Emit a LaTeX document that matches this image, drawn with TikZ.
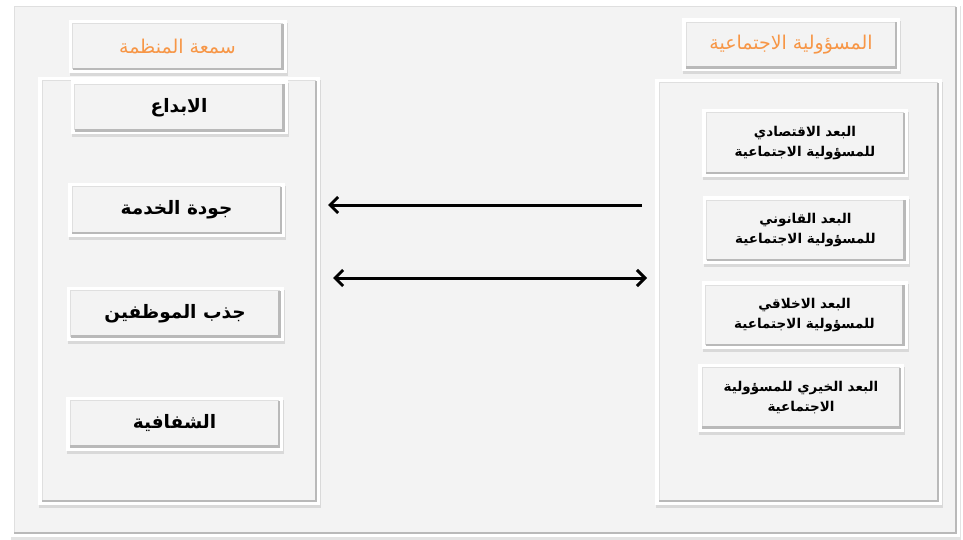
\documentclass[tikz,border=0pt]{standalone}
\usepackage{fontspec}
\usetikzlibrary{arrows.meta,shadows}
\TeXXeTstate=1
\newfontfamily\arabicfont[Script=Arabic]{DejaVu Sans}
\definecolor{bgc}{HTML}{F5F5F5}
\definecolor{facec}{HTML}{F3F3F3}
\definecolor{orangec}{HTML}{F79646}
\tikzset{
  bevel/.style={draw=none, fill=white, inner sep=0pt, outer sep=0pt,
    drop shadow={opacity=0.22, shadow xshift=1pt, shadow yshift=-3pt},
    path picture={
      \coordinate (pa) at ([shift={(4pt,4pt)}]path picture bounding box.south west);
      \coordinate (pb) at ([shift={(-4pt,-4pt)}]path picture bounding box.north east);
      \fill[facec] (pa) rectangle (pb);
      \draw[gray!25, line width=1pt] (pa) -- (pa|-pb) -- (pb);
      \draw[gray!55, line width=2.5pt] (pa) -- (pb|-pa) -- (pb);
    }},
  titlebox/.style={bevel, minimum width=218pt, minimum height=53pt,
    font=\arabicfont\fontsize{19}{21}\selectfont, text=orangec},
  lbox/.style={bevel, minimum width=217pt, minimum height=54pt,
    font=\arabicfont\bfseries\fontsize{18.5}{21}\selectfont},
  rbox/.style={bevel, minimum width=206pt, minimum height=68pt, align=center,
    font=\arabicfont\bfseries\fontsize{13.5}{20}\selectfont},
  arr/.style={line width=3pt, black, -{Straight Barb[length=8pt,width=16pt,line width=3pt]}},
  darr/.style={line width=3pt, black, {Straight Barb[length=8pt,width=16pt,line width=3pt]}-{Straight Barb[length=8pt,width=16pt,line width=3pt]}}
}
\begin{document}
\begin{tikzpicture}[x=1pt,y=-1pt]
\useasboundingbox (0,0) rectangle (963,540);
\fill[white] (0,0) rectangle (963,540);
% outer frame
\node[bevel, minimum width=950pt, minimum height=534pt] (frame) at (485,270) {};
% panels
\node[bevel, minimum width=282pt, minimum height=428pt] (lpanel) at (179,291) {};
\node[bevel, minimum width=287pt, minimum height=426pt] (rpanel) at (798.5,292) {};
% titles
\node[titlebox] (ltitle) at (177.5,46.5) {\beginR سمعة المنظمة\endR};
\node[titlebox] (rtitle) at (791,45) {\beginR المسؤولية الاجتماعية\endR};
% left boxes
\node[lbox] (l1) at (179,107.5) {\beginR الابداع\endR};
\node[lbox] (l2) at (176.5,210) {\beginR جودة الخدمة\endR};
\node[lbox] (l3) at (175,313.5) {\beginR جذب الموظفين\endR};
\node[lbox] (l4) at (174.5,423.5) {\beginR الشفافية\endR};
% right boxes
\node[rbox] (r1) at (805,143) {\beginR البعد الاقتصادي\endR\\\beginR للمسؤولية الاجتماعية\endR};
\node[rbox] (r2) at (805.5,230) {\beginR البعد القانوني\endR\\\beginR للمسؤولية الاجتماعية\endR};
\node[rbox] (r3) at (804.5,315) {\beginR البعد الاخلاقي\endR\\\beginR للمسؤولية الاجتماعية\endR};
\node[rbox] (r4) at (801,397.5) {\beginR البعد الخيري للمسؤولية\endR\\\beginR الاجتماعية\endR};
% arrows
\draw[arr, shorten <=13pt, shorten >=8pt] (rpanel.west |- 0,205) -- (lpanel.east |- 0,205);
\draw[darr, shorten <=13pt, shorten >=8pt] (lpanel.east |- 0,278) -- (rpanel.west |- 0,278);
\end{tikzpicture}
\end{document}
